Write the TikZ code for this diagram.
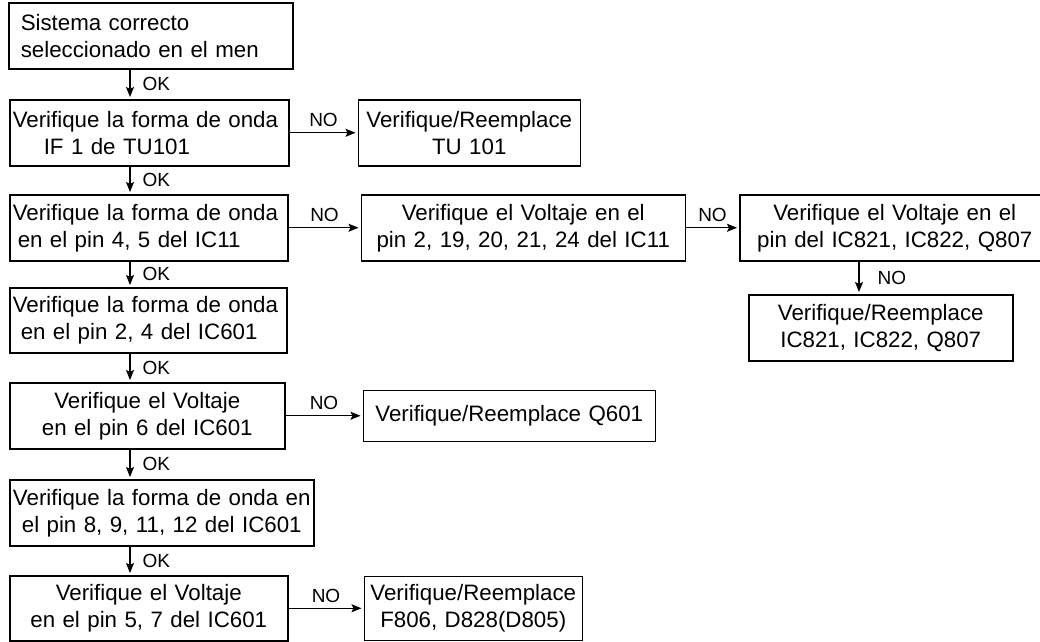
\documentclass[tikz,border=0pt]{standalone}
\usepackage{fontspec}
\setmainfont{Liberation Sans}
\usepackage{tikz}
\usetikzlibrary{
  positioning,
  arrows, arrows.meta,
  calc
}
\newcommand{\boxfont}{\fontsize{22.3}{27}\selectfont}
\newcommand{\tagfont}{\fontsize{19}{22}\selectfont}

\begin{document}
\begin{tikzpicture}[x=1pt,y=-1pt]
			\tikzset{
			chk/.style={
					rectangle, draw, line width=1.5pt, anchor=north west,
					inner xsep=4pt, inner ysep=0pt,
					font=\boxfont, align=center,
				},
			rel/.style={
			->, >={Stealth[length=10pt,width=8pt,inset=2pt]}, line width=1.2pt, shorten >=2pt, },
			tag/.style={font=\tagfont, inner sep=5pt},
			oktag/.style={tag, right, xshift=7pt},
			}
			\useasboundingbox (0,0) rectangle (1040,641);

			% main column
			\node[chk, align=left, inner xsep=12pt, text width=260pt, minimum height=66pt] (sys) at (8,2) {
				Sistema correcto\\ seleccionado en el men};
			\node[chk, align=left, inner xsep=3pt, text width=273pt, minimum height=66pt] (wave1) at (9,99) {
				Verifique la forma de onda\\ \hspace*{31pt}IF 1 de TU101};
			\node[chk, align=left, inner xsep=3pt, text width=272pt, minimum height=66pt] (wave2) at (9,194) {
				Verifique la forma de onda\\ \hspace*{5pt}en el pin 4, 5 del IC11};
			\node[chk, align=left, inner xsep=3pt, text width=271pt, minimum height=65pt] (wave3) at (9,287) {
				Verifique la forma de onda\\ \hspace*{8pt}en el pin 2, 4 del IC601};
			\node[chk, text width=267pt, minimum height=66pt] (volt601) at (9,382) {
				Verifique el Voltaje\\ en el pin 6 del IC601};
			\node[chk, inner xsep=2pt, text width=300pt, minimum height=66pt] (wave4) at (9,479) {
				Verifique la forma de onda en\\ el pin 8, 9, 11, 12 del IC601};
			\node[chk, text width=270pt, minimum height=65pt] (volt57) at (9,575) {
				Verifique el Voltaje\\ en el pin 5, 7 del IC601};

			% side boxes
			\node[chk, anchor=west, text width=214pt, minimum height=66pt, right=68pt of wave1] (tu101) {
				Verifique/Reemplace\\ TU 101};
			\node[chk, anchor=west, text width=316pt, minimum height=66pt, right=72pt of wave2] (volt11) {
				Verifique el Voltaje en el\\ pin 2, 19, 20, 21, 24 del IC11};
			\node[chk, anchor=west, text width=302pt, minimum height=66pt, right=53pt of volt11] (volt8xx) {
				Verifique el Voltaje en el\\ pin del IC821, IC822, Q807};
			\node[chk, text width=256pt, minimum height=66pt] (rep8xx) at (748,294) {
				Verifique/Reemplace\\ IC821, IC822, Q807};
			\node[chk, anchor=west, text width=284pt, minimum height=51pt, right=77pt of volt601] (q601) {
				Verifique/Reemplace Q601};
			\node[chk, anchor=west, text width=210pt, minimum height=64pt, right=75pt of volt57] (rep806) {
				Verifique/Reemplace\\ F806, D828(D805)};

			\coordinate (okx) at (130,0);
			\coordinate (nox) at (859,0);

			\draw[rel] (sys.south -| okx) -- (wave1.north -| okx) node[oktag, midway] {OK};
			\draw[rel] (wave1.south -| okx) -- (wave2.north -| okx) node[oktag, midway] {OK};
			\draw[rel] (wave2.south -| okx) -- (wave3.north -| okx) node[oktag, midway] {OK};
			\draw[rel] (wave3.south -| okx) -- (volt601.north -| okx) node[oktag, midway] {OK};
			\draw[rel] (volt601.south -| okx) -- (wave4.north -| okx) node[oktag, midway] {OK};
			\draw[rel] (wave4.south -| okx) -- (volt57.north -| okx) node[oktag, midway] {OK};

			\draw[rel] (wave1) -- (tu101) node[tag, midway, above] {NO};
			\draw[rel] (wave2) -- (volt11) node[tag, midway, above] {NO};
			\draw[rel] (volt11) -- (volt8xx) node[tag, midway, above] {NO};
			\draw[rel] (volt8xx.south -| nox) -- (rep8xx.north -| nox) node[oktag, midway, xshift=6pt] {NO};
			\draw[rel] (volt601) -- (q601) node[tag, midway, above] {NO};
			\draw[rel] (volt57) -- (rep806) node[tag, midway, above] {NO};
		\end{tikzpicture}
\end{document}
